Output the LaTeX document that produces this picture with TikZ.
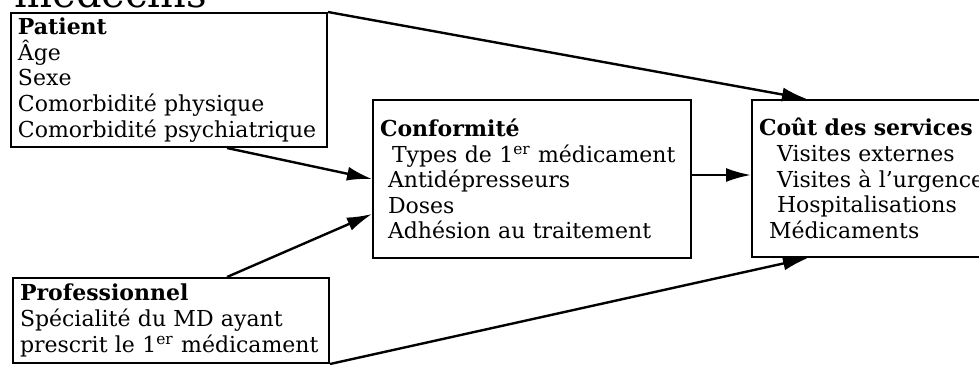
\documentclass[tikz,border=0pt]{standalone}
\usepackage{fontspec}
\setmainfont{DejaVu Serif}
\usetikzlibrary{positioning, calc, arrows.meta}

\begin{document}
\begin{tikzpicture}[
          x = 0.5pt, y = -0.5pt,
          font = \fontsize{11}{12.8}\selectfont,
          inner ysep = 0
        ]
          \tikzstyle {box} = [draw, line width = 1pt, anchor = north west, align = left, inner xsep = 3.5pt]
          \tikzstyle {link} = [draw, line width = 1.2pt, -{Latex[length = 12.5pt, width = 7pt]}]
          \useasboundingbox (0,0) rectangle (979,364);
          \clip (0,0) rectangle (979,364);
          % place nodes
          \path node (caption) [anchor = base west, inner sep = 0, font = \fontsize{20}{22}\selectfont] at (14,7) {médecins};
          \path node (patient) [box, text width = 151pt, minimum height = 67pt] at (10,12)
            {\textbf{Patient}\\ Âge\\ Sexe\\ Comorbidité physique\\ Comorbidité psychiatrique};
          \path node (conf) [box, text width = 152pt, minimum height = 79pt] at (372,99)
            {\textbf{Conformité}\\ \hspace*{6pt}Types de 1\textsuperscript{er} médicament\\ \hspace*{4pt}Antidépresseurs\\ \hspace*{4pt}Doses\\ \hspace*{4pt}Adhésion au traitement};
          \path node (cout) [box, text width = 130pt, minimum height = 78.5pt] at (751,99)
            {\textbf{Coût des services}\\ \hspace*{9pt}Visites externes\\ \hspace*{9pt}Visites à l’urgence\\ \hspace*{9pt}Hospitalisations\\ \hspace*{5pt}Médicaments};
          \path node (prof) [box, text width = 151pt, minimum height = 42.5pt] at (12,277)
            {\textbf{Professionnel}\\ Spécialité du MD ayant\\ prescrit le 1\textsuperscript{er} médicament};
          % place edges
          \draw [link] (patient.north east) -- ([xshift = 28pt]cout.north west);
          \draw [link] ([xshift = 108.5pt]patient.south west) -- (conf.west);
          \draw [link] ([xshift = 107.5pt]prof.north west) -- ([yshift = 22.5pt]conf.south west);
          \draw [link] ([yshift = 2pt]conf.east) -- ([yshift = 2pt]conf.east -| cout.west);
          \draw [link] (prof.south east) -- ([xshift = 28.5pt]cout.south west);
        \end{tikzpicture}
\end{document}
